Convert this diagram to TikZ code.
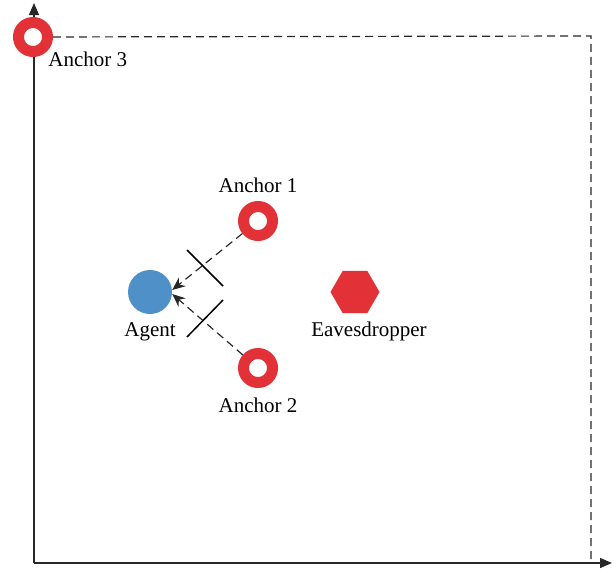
\documentclass[tikz,border=0pt]{standalone}
\usepackage{fontspec}
\setmainfont{Liberation Serif}
\usepackage{xcolor}
\usetikzlibrary{arrows.meta, shapes.geometric, positioning}

\definecolor{ringred}{RGB}{226,50,56}
\definecolor{agentblue}{RGB}{80,144,200}
\definecolor{axisgray}{RGB}{40,40,40}

\tikzset{
    anchornode/.style={circle, draw=ringred, line width=11pt, fill=white, minimum size=29pt, inner sep=0pt},
    agentnode/.style={circle, fill=agentblue, minimum size=44pt, inner sep=0pt},
    evenode/.style={regular polygon, regular polygon sides=6, fill=ringred, minimum size=49pt, inner sep=0pt},
    axis/.style={line width=1.3pt, draw=axisgray, -{Triangle[length=12pt, width=10pt]}},
    bound/.style={line width=1.2pt, draw=axisgray, dash pattern=on 8pt off 5pt},
    ray/.style={line width=1.2pt, draw=axisgray, dash pattern=on 8pt off 5pt, -{Stealth[length=13pt, width=11pt]}},
    wall/.style={line width=1.5pt, draw=black},
    every label/.style={font=\fontsize{21}{25}\selectfont}
}

\begin{document}
\begin{tikzpicture}[x=1pt, y=-1pt]
                \useasboundingbox (0, 0) rectangle (616, 573);

                \coordinate (o) at (34, 563);
                \coordinate (xend) at (612, 563);
                \coordinate (yend) at (34, 3);
                \coordinate (topright) at (591, 36);
                \coordinate (botright) at (591, 563);

                \draw[axis] (o) -- (xend);
                \draw[axis] (o) -- (yend);

                \node[anchornode, label={[anchor=north west, inner sep=1pt]south east:Anchor 3}] (a3) at (33, 37) {};
                \node[anchornode, label={[label distance=5pt]above:Anchor 1}] (a1) at (258, 221) {};
                \node[anchornode, label={[label distance=6pt]below:Anchor 2}] (a2) at (258, 368) {};
                \node[agentnode, label={[label distance=5pt]below:Agent}] (agent) at (150, 292) {};
                \node[evenode, label={[xshift=14pt, label distance=5pt]below:Eavesdropper}] (eve) at (355, 292) {};

                \draw[bound] (a3) -- (topright) -- (botright);

                \draw[ray] (a1) -- ([yshift=2pt]agent.east);
                \draw[ray] (a2) -- ([yshift=-2pt]agent.east);

                \draw[wall] (187, 250) -- (223, 286);
                \draw[wall] (223, 300) -- (187, 337);
            \end{tikzpicture}
\end{document}
